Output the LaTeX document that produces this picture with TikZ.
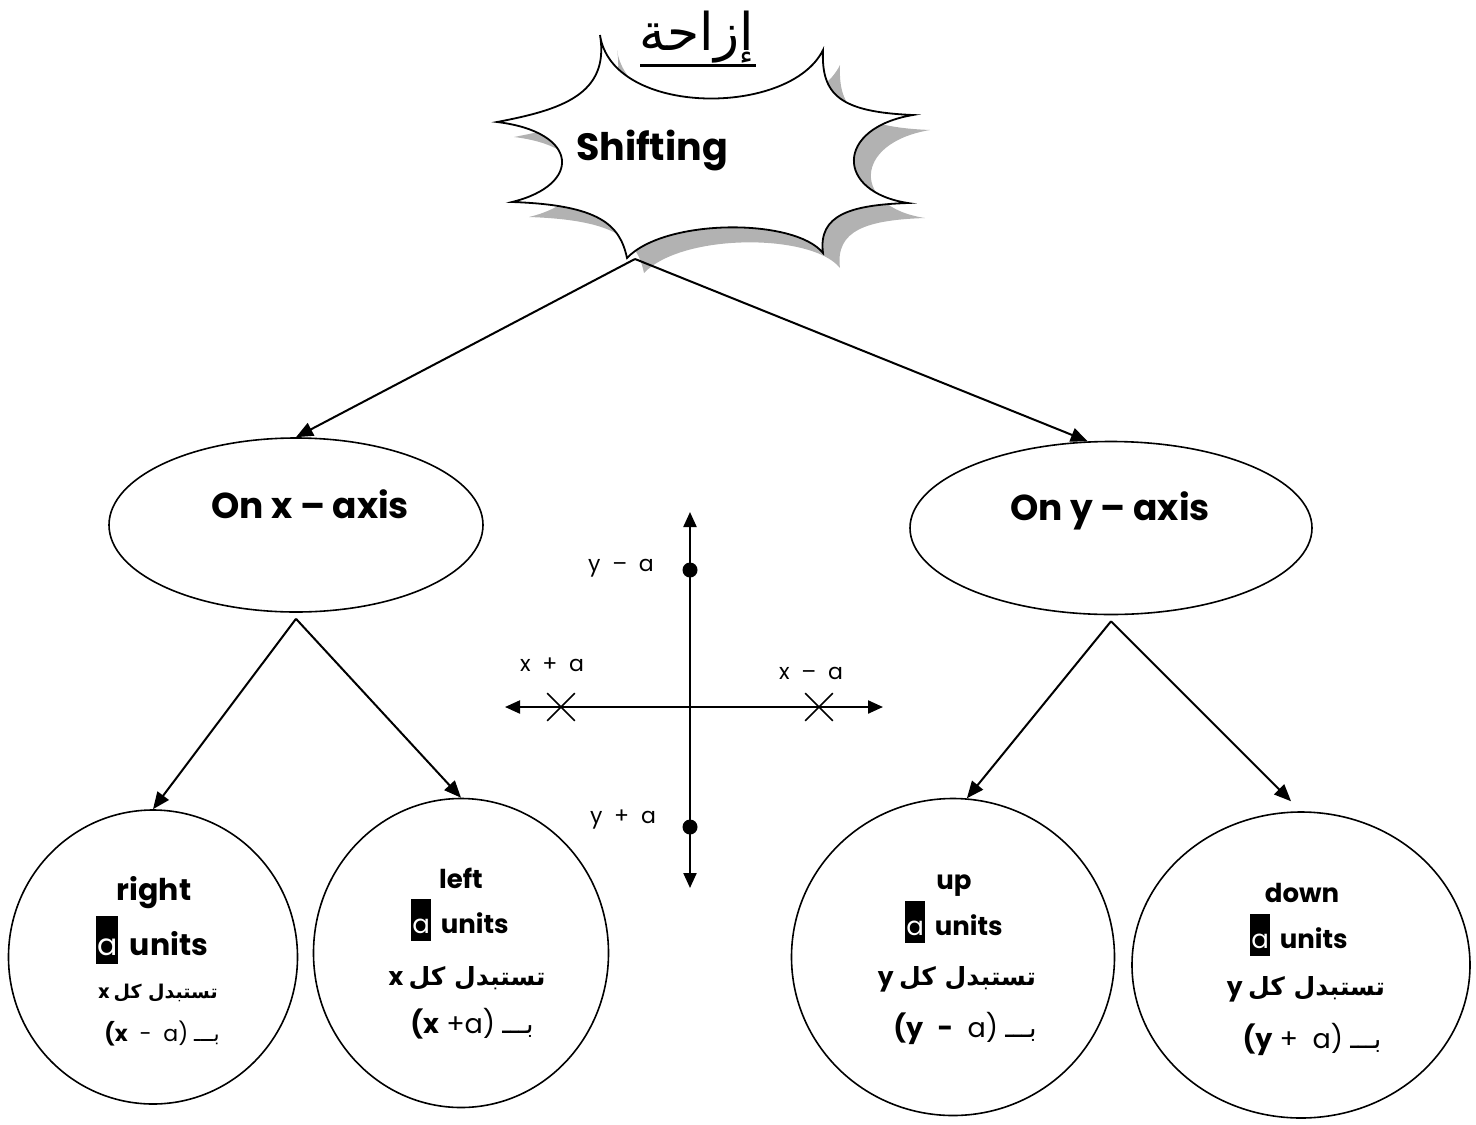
\documentclass[tikz,border=0pt]{standalone}
\usepackage{fontspec}
\setmainfont{Poppins}
\newfontfamily\arabicfont[Script=Arabic]{DejaVu Sans}
\TeXXeTstate=1
\usetikzlibrary{arrows.meta,shapes.geometric,shapes.misc}
\newcommand\abox{{\setlength{\fboxsep}{0pt}\colorbox{black}{\makebox[0.75em]{\rule[-0.3em]{0pt}{1.6em}\color{white}\mdseries a}}}\hspace{0.38em}}
\newcommand\fs[1]{\fontsize{#1}{#1}\selectfont}
\begin{document}
\begin{tikzpicture}[x=1pt,y=-1pt,
  conn/.style={line width=2pt,-{Triangle[length=17pt,width=14pt]}},
  axisline/.style={line width=2.2pt,{Triangle[length=15pt,width=13pt]}-{Triangle[length=15pt,width=13pt]}},
  oval/.style={draw,ellipse,line width=1.6pt,inner sep=0pt},
  lbl/.style={anchor=base,inner sep=0pt},
  dot/.style={circle,fill,inner sep=0pt,minimum size=15pt},
  xmark/.style={cross out,draw,line width=1.6pt,minimum size=26pt,inner sep=0pt},
  small/.style={inner sep=0pt,font=\fs{22}},
]
\useasboundingbox (0,0) rectangle (1476,1125);
% burst
\def\burstpath{(600,35) .. controls (612,117) and (790,117) .. (823,50)
  .. controls (821,95) and (840,112) .. (913,115)
  .. controls (835,128) and (835,192) .. (908,203)
  .. controls (850,205) and (818,215) .. (823,253)
  .. controls (795,218) and (665,218) .. (627,258)
  .. controls (620,225) and (600,205) .. (512,202)
  .. controls (582,185) and (580,132) .. (497,122)
  .. controls (560,110) and (610,95) .. cycle}
\fill[black!30,shift={(17,15)}] \burstpath;
\draw[line width=1.8pt,fill=white] \burstpath;
\node[lbl,font=\bfseries\fs{38}] (shift) at (652,160) {Shifting};
% title
\node[lbl,font=\arabicfont\fs{52}] (title) at (697,50) {\beginR إزاحة\endR};
\draw[line width=3pt] (640,65) -- (756,65);
% ellipses
\node[oval,minimum width=374pt,minimum height=174pt] (ex) at (296,525) {};
\node[oval,minimum width=402pt,minimum height=173pt] (ey) at (1111,528) {};
\node[lbl,font=\bfseries\fs{36}] (exl) at (310,518) {On x – axis};
\node[lbl,font=\bfseries\fs{36}] (eyl) at (1110,520) {On y – axis};
\coordinate (bt) at (635,259);
\draw[conn] (bt) -- (ex.north);
\draw[conn] (bt) -- (ey.105);
% circles
\node[oval,minimum width=289pt,minimum height=294pt] (c1) at (153,957) {};
\node[oval,minimum width=295pt,minimum height=309pt] (c2) at (461,953) {};
\node[oval,minimum width=323pt,minimum height=317pt] (c3) at (953,957) {};
\node[oval,minimum width=338pt,minimum height=306pt] (c4) at (1301,965) {};
\draw[conn] ([yshift=-6pt]ex.south) -- (c1.north);
\draw[conn] ([yshift=-6pt]ex.south) -- (c2.north);
\draw[conn] ([yshift=-6pt]ey.south) -- (c3.85);
\draw[conn,shorten >=14pt] ([yshift=-6pt]ey.south) -- (c4.north);
% circle texts
\node[lbl,font=\bfseries\fs{30}] (c1a) at (154,900) {right};
\node[lbl,font=\bfseries\fs{30}] (c1b) at (152,955) {\abox units};
\node[lbl,font=\bfseries\fs{19}] (c1c) at (158,998) {x {\arabicfont\beginR تستبدل كل\endR}};
\node[lbl,font=\fs{22}] (c1d) at (162,1041) {\textbf{(x}\ \ -\ \ a) {\arabicfont\beginR بـــ\endR}};
\node[lbl,font=\bfseries\fs{26}] (c2a) at (461,888) {left};
\node[lbl,font=\bfseries\fs{26}] (c2b) at (460,933) {\abox units};
\node[lbl,font=\bfseries\fs{25}] (c2c) at (467,985) {x {\arabicfont\beginR تستبدل كل\endR}};
\node[lbl,font=\fs{27}] (c2d) at (472,1033) {\textbf{(x} +a) {\arabicfont\beginR بـــ\endR}};
\node[lbl,font=\bfseries\fs{26}] (c3a) at (954,889) {up};
\node[lbl,font=\bfseries\fs{26}] (c3b) at (954,935) {\abox units};
\node[lbl,font=\bfseries\fs{25}] (c3c) at (957,985) {y {\arabicfont\beginR تستبدل كل\endR}};
\node[lbl,font=\fs{27}] (c3d) at (965,1037) {\textbf{(y}\ \ \textbf{-}\ \ a) {\arabicfont\beginR بـــ\endR}};
\node[lbl,font=\bfseries\fs{26}] (c4a) at (1302,902) {down};
\node[lbl,font=\bfseries\fs{26}] (c4b) at (1299,948) {\abox units};
\node[lbl,font=\bfseries\fs{25}] (c4c) at (1306,995) {y {\arabicfont\beginR تستبدل كل\endR}};
\node[lbl,font=\fs{27}] (c4d) at (1312,1048) {\textbf{(y} +\ \ a) {\arabicfont\beginR بـــ\endR}};
% axes
\coordinate (hl) at (505,707); \coordinate (hr) at (883,707);
\coordinate (vt) at (690,512); \coordinate (vb) at (690,888);
\draw[axisline] (hl) -- (hr);
\draw[axisline] (vt) -- (vb);
\node[dot] (d1) at (690,570) {};
\node[dot] (d2) at (690,827) {};
\node[xmark] (x1) at (561,707) {};
\node[xmark] (x2) at (819,707) {};
\node[small] (ly1) at (621,568) {y \ – \ a};
\node[small] (lx1) at (552,665) {x \ + \ a};
\node[small] (lx2) at (811,673) {x \ – \ a};
\node[small] (ly2) at (623,819) {y \ + \ a};
\end{tikzpicture}
\end{document}
